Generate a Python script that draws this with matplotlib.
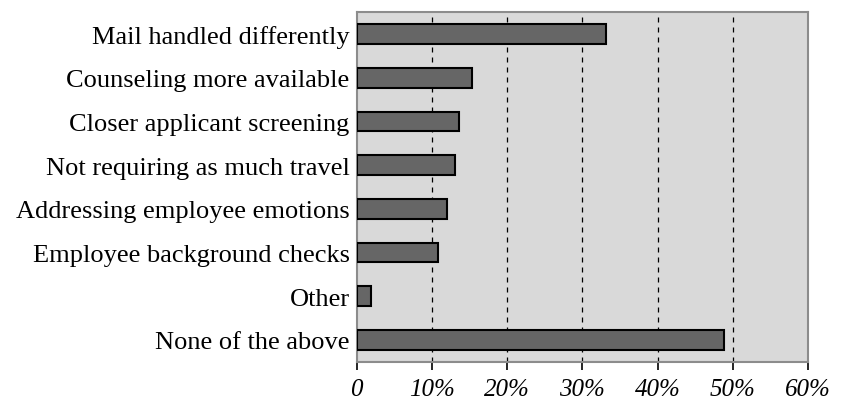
import matplotlib
matplotlib.use("Agg")
import matplotlib.pyplot as plt

categories = [
    "Mail handled differently",
    "Counseling more available",
    "Closer applicant screening",
    "Not requiring as much travel",
    "Addressing employee emotions",
    "Employee background checks",
    "Other",
    "None of the above",
]
percent = [33.2, 15.4, 13.6, 13.1, 12.0, 10.8, 1.9, 48.8]
xticks = [0, 10, 20, 30, 40, 50, 60]
xtick_labels = ["0", "10%", "20%", "30%", "40%", "50%", "60%"]

plt.rcParams["font.family"] = ["Liberation Serif", "DejaVu Serif"]

fig = plt.figure(figsize=(8.47, 4.02), dpi=100)
ax = fig.add_axes([0.421, 0.098, 0.533, 0.869])
ax.set_facecolor("#d9d9d9")

ypos = list(range(len(categories)))
ax.barh(ypos, percent, height=0.45, color="#666666", edgecolor="black",
        linewidth=1.5, zorder=3)

ax.set_xlim(0, 60)
ax.set_ylim(len(categories) - 0.5, -0.5)
ax.set_yticks(ypos)
ax.set_yticklabels(categories, fontsize=19)
ax.tick_params(axis="y", length=0, pad=5)

ax.set_xticks(xticks)
ax.set_xticklabels(xtick_labels, fontsize=18, style="italic")
ax.tick_params(axis="x", direction="out", length=6, width=1.2,
               color="black", pad=6)

for v in xticks[1:-1]:
    ax.axvline(v, color="black", linewidth=0.9, linestyle=(0, (4, 4)), zorder=1)

for s in ax.spines.values():
    s.set_color("#8c8c8c")
    s.set_linewidth(1.5)

fig.savefig("out.png", dpi=100)
